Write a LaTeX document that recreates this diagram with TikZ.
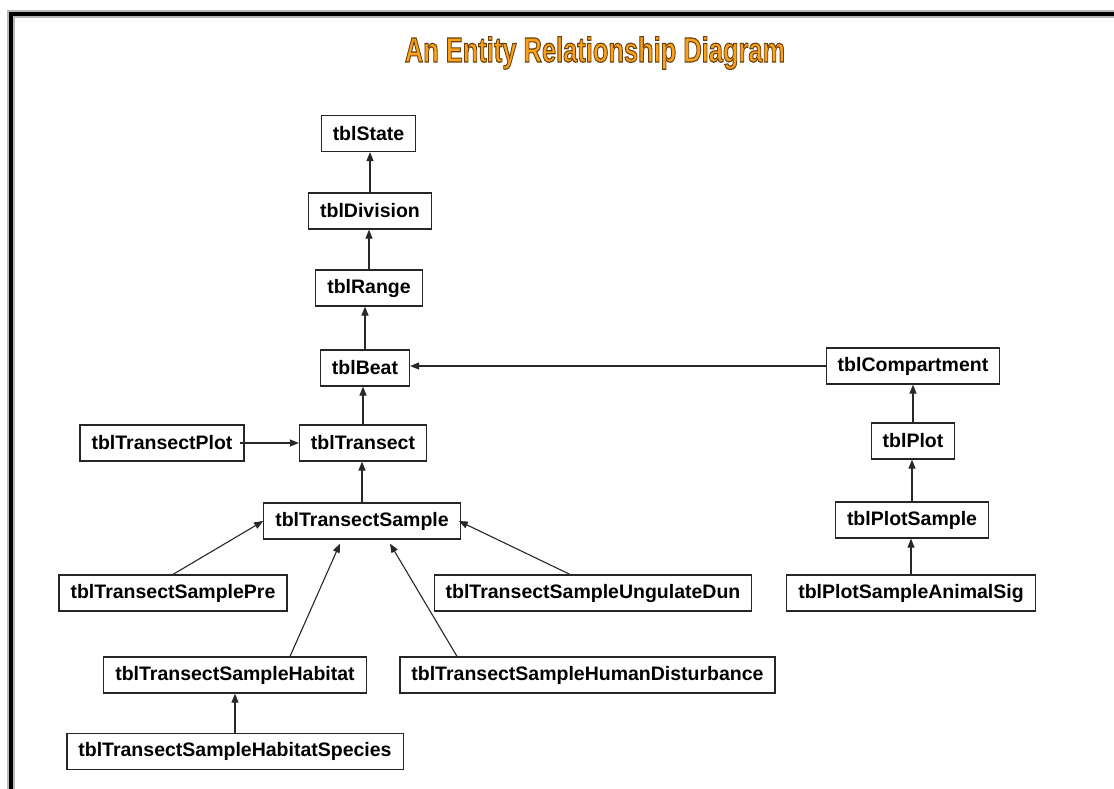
\documentclass[tikz,border=0pt]{standalone}
\usepackage{fontspec}
\setmainfont{Liberation Sans}
\usetikzlibrary{arrows.meta,calc}
\definecolor{ttlorange}{RGB}{250,160,25}
\definecolor{ttledge}{RGB}{105,66,18}
\definecolor{lnc}{RGB}{40,40,40}
\newcommand{\ttltext}{\scalebox{0.727}[1]{\fontsize{35}{40}\selectfont\bfseries An Entity Relationship Diagram}}
\begin{document}
\begin{tikzpicture}[x=1pt,y=-1pt,
  tbl/.style={draw=black!85,line width=1.2pt,fill=white,font=\fontsize{19.5}{22}\selectfont\bfseries,inner xsep=11.5pt,inner ysep=0pt,minimum height=36pt},
  arr/.style={draw=lnc,line width=1.1pt,-{Triangle[length=9pt,width=7pt]}},
  ttl/.style={anchor=base,inner sep=0pt}]
\useasboundingbox (0,0) rectangle (1114,788);
\fill[white] (0,0) rectangle (1114,788);
% frame
\draw[gray!55,line width=8.5pt] (11,790) -- (11,14) -- (1116,14);
\draw[black,line width=4.5pt] (11,790) -- (11,14) -- (1116,14);
% title: orange fill with brown outline
\node[ttl,text=ttlorange] (title) at (595,62) {\special{pdf:code 2 Tr 1.15 w 0.41 0.26 0.07 RG}\ttltext\special{pdf:code 0 Tr}};
% entities
\node[tbl] (State) at (368.5,133.5) {tblState};
\node[tbl] (Division) at (370,211) {tblDivision};
\node[tbl] (Range) at (369,288) {tblRange};
\node[tbl] (Beat) at (365,368) {tblBeat};
\node[tbl] (Compartment) at (913,366) {tblCompartment};
\node[tbl] (TransectPlot) at (162,443) {tblTransectPlot};
\node[tbl] (Transect) at (363,443) {tblTransect};
\node[tbl] (Plot) at (913,441) {tblPlot};
\node[tbl] (TS) at (362,521) {tblTransectSample};
\node[tbl] (PlotSample) at (912,520) {tblPlotSample};
\node[tbl] (Pre) at (173,593) {tblTransectSamplePre};
\node[tbl] (Ungulate) at (593,593) {tblTransectSampleUngulateDun};
\node[tbl] (AnimalSig) at (911,593) {tblPlotSampleAnimalSig};
\node[tbl] (Habitat) at (235,675) {tblTransectSampleHabitat};
\node[tbl] (Human) at (587.5,675) {tblTransectSampleHumanDisturbance};
\node[tbl] (Species) at (235,751.5) {tblTransectSampleHabitatSpecies};
% connectors
\draw[arr] (Division.north) -- (Division.north |- State.south);
\draw[arr] (Range.north) -- (Range.north |- Division.south);
\draw[arr] (Beat.north) -- (Beat.north |- Range.south);
\draw[arr] (Transect.north) -- (Transect.north |- Beat.south);
\draw[arr] (TS.north) -- (TS.north |- Transect.south);
\draw[arr] ($(TransectPlot.east)+(-5,0)$) -- (Transect.west);
\draw[arr] (Compartment.west) -- (Compartment.west -| Beat.east);
\draw[arr] (Plot.north) -- (Plot.north |- Compartment.south);
\draw[arr] (PlotSample.north) -- (PlotSample.north |- Plot.south);
\draw[arr] (AnimalSig.north) -- (AnimalSig.north |- PlotSample.south);
\draw[arr] (Pre.north) -- (TS.west);
\draw[arr] ($(Ungulate.north)+(-23,0)$) -- ($(TS.east)+(-2,0)$);
\draw[arr] ($(Habitat.north)+(55,0)$) -- ($(TS.south)+(-22,4)$);
\draw[arr] ($(Human.north)+(-130.5,0)$) -- ($(TS.south)+(28,4)$);
\draw[arr] (Species.north) -- (Species.north |- Habitat.south);
\end{tikzpicture}
\end{document}
